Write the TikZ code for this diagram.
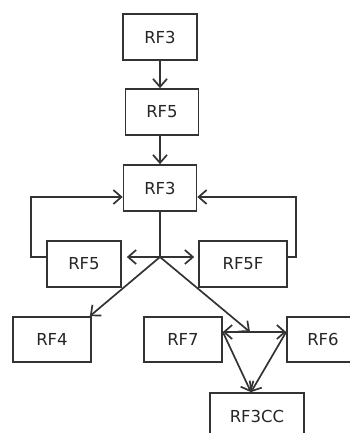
\documentclass[tikz,border=0pt]{standalone}
\usepackage{fontspec}
\setmainfont{DejaVu Sans}
\usepackage{tikz}
\usetikzlibrary{positioning,calc,arrows.meta}

\begin{document}
\begin{tikzpicture}[x=1pt, y=-1pt,
    line width=1.7pt, draw=black!80,
    >={Straight Barb[length=8pt,width=14pt]},
    blk/.style={draw=black!80, rectangle, minimum height=46pt, inner sep=0pt,
                font=\fontsize{16.5}{19}\selectfont, text=black!85}]
    \useasboundingbox (0,0) rectangle (350,433);

    % Boxes
    \node [blk, minimum width=74pt] (rf3a) at (160,37) {RF3};
    \node [blk, minimum width=73pt] (rf5a) at (162,112) {RF5};
    \node [blk, minimum width=73pt] (rf3b) at (160,188) {RF3};
    \node [blk, minimum width=74pt] (rf5b) at (84,264) {RF5};
    \node [blk, minimum width=88pt] (rf5f) at (243,264) {RF5F};
    \node [blk, minimum width=78pt, minimum height=45pt] (rf4) at (52,339.5) {RF4};
    \node [blk, minimum width=78pt, minimum height=45pt] (rf7) at (183,339.5) {RF7};
    \node [blk, minimum width=72pt, minimum height=45pt] (rf6) at (323,339.5) {RF6};
    \node [blk, minimum width=94pt] (rf3cc) at (257,416) {RF3CC};

    % Branch points
    \coordinate (j1) at (160,257);
    \coordinate (j2) at (250,332);

    % Main chain
    \draw [->] (rf3a.south) -- (rf3a.south |- rf5a.north);
    \draw [->] (rf5a.south -| rf3b.north) -- (rf3b.north);
    \draw (rf3b.south) -- (j1);

    % Split to RF5 / RF5F
    \draw [->, shorten >=5pt] (j1) -- (rf5b.east |- j1);
    \draw [->, shorten >=4pt] (j1) -- (rf5f.west |- j1);

    % Feedback loops
    \draw [->] (rf5b.west |- j1) -- ++(-15,0) |- ([yshift=-9pt]rf3b.west);
    \draw [->] (rf5f.east |- j1) -- ++(8,0) |- ([yshift=-9pt]rf3b.east);

    % Lower branches
    \draw [->] (j1) -- ([xshift=-2pt]rf4.north east);
    \draw [->] (j1) -- (j2);
    \draw [->] (j2) -- (rf7.east |- j2);
    \draw [->] (j2) -- (rf6.west |- j2);
    \draw [->] (rf7.east |- j2) -- ([xshift=-6pt]rf3cc.north);
    \draw [->] (rf6.west |- j2) -- ([xshift=-6pt]rf3cc.north);
\end{tikzpicture}
\end{document}
